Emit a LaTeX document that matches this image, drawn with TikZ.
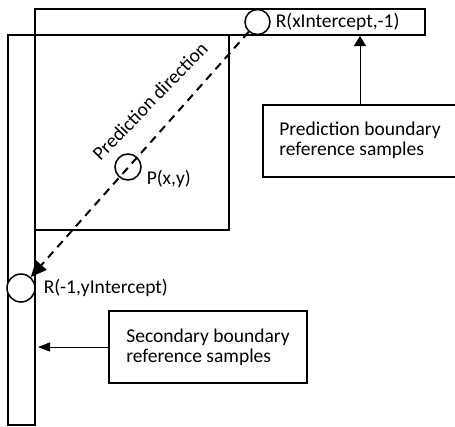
\documentclass[tikz,border=0pt]{standalone}
\usepackage{fontspec}
\setmainfont{Carlito}
\usetikzlibrary{arrows.meta, positioning}

\begin{document}
\begin{tikzpicture}[x=1pt, y=-1pt, line width=2pt, node distance=4pt,
  every node/.style={font=\fontsize{19.5}{20}\selectfont},
  refbar/.style={draw, rectangle, inner sep=0pt},
  sample/.style={draw, circle, line width=1.5pt, inner sep=0pt},
  notebox/.style={draw, rectangle, align=left, minimum height=72pt, inner sep=0pt},
  pointer/.style={line width=1pt}]
  \useasboundingbox (0,0) rectangle (455,426);
  % reference rows and the current block
  \node[refbar, minimum width=194pt, minimum height=195pt] (block) at (132,132.5) {};
  \node[refbar, minimum width=390pt, minimum height=26pt] (topbar) at (230,22) {};
  \node[refbar, minimum width=27pt, minimum height=390pt] (leftbar) at (21.5,230) {};
  % samples on the prediction line
  \node[sample, fill=white, minimum size=25pt] (rx) at (257.5,22) {};
  \node[sample, fill=white, minimum size=28pt] (ry) at (21,288) {};
  \node[sample, minimum size=26pt] (p) at (128,167) {};
  \node[right=of rx, inner sep=0pt] (rxlabel) {R(xIntercept,-1)};
  \node[right=of ry, inner sep=0pt, xshift=3pt] (rylabel) {R(-1,yIntercept)};
  \node[anchor=west, inner sep=0pt, xshift=4pt, yshift=-12pt] (plabel) at (p.east) {P(x,y)};
  \draw[dash pattern=on 8pt off 6pt, -{Triangle[length=16pt,width=14pt]}] (rx) -- (ry);
  \node[rotate=46] (dirlabel) at (150,101) {Prediction direction};
  % callouts
  \node[notebox, minimum width=194pt] (pbox) at (360,140.5) {Prediction boundary\\reference samples};
  \node[notebox, minimum width=198pt] (sbox) at (208,347) {Secondary boundary\\reference samples};
  \draw[pointer, -{Triangle[length=10pt,width=12pt]}] (pbox.north) -- (pbox.north |- topbar.south);
  \draw[pointer, -{Triangle[length=12pt,width=9pt]}, shorten >=2pt] (sbox.west) -- (sbox.west -| leftbar.east);
\end{tikzpicture}
\end{document}
